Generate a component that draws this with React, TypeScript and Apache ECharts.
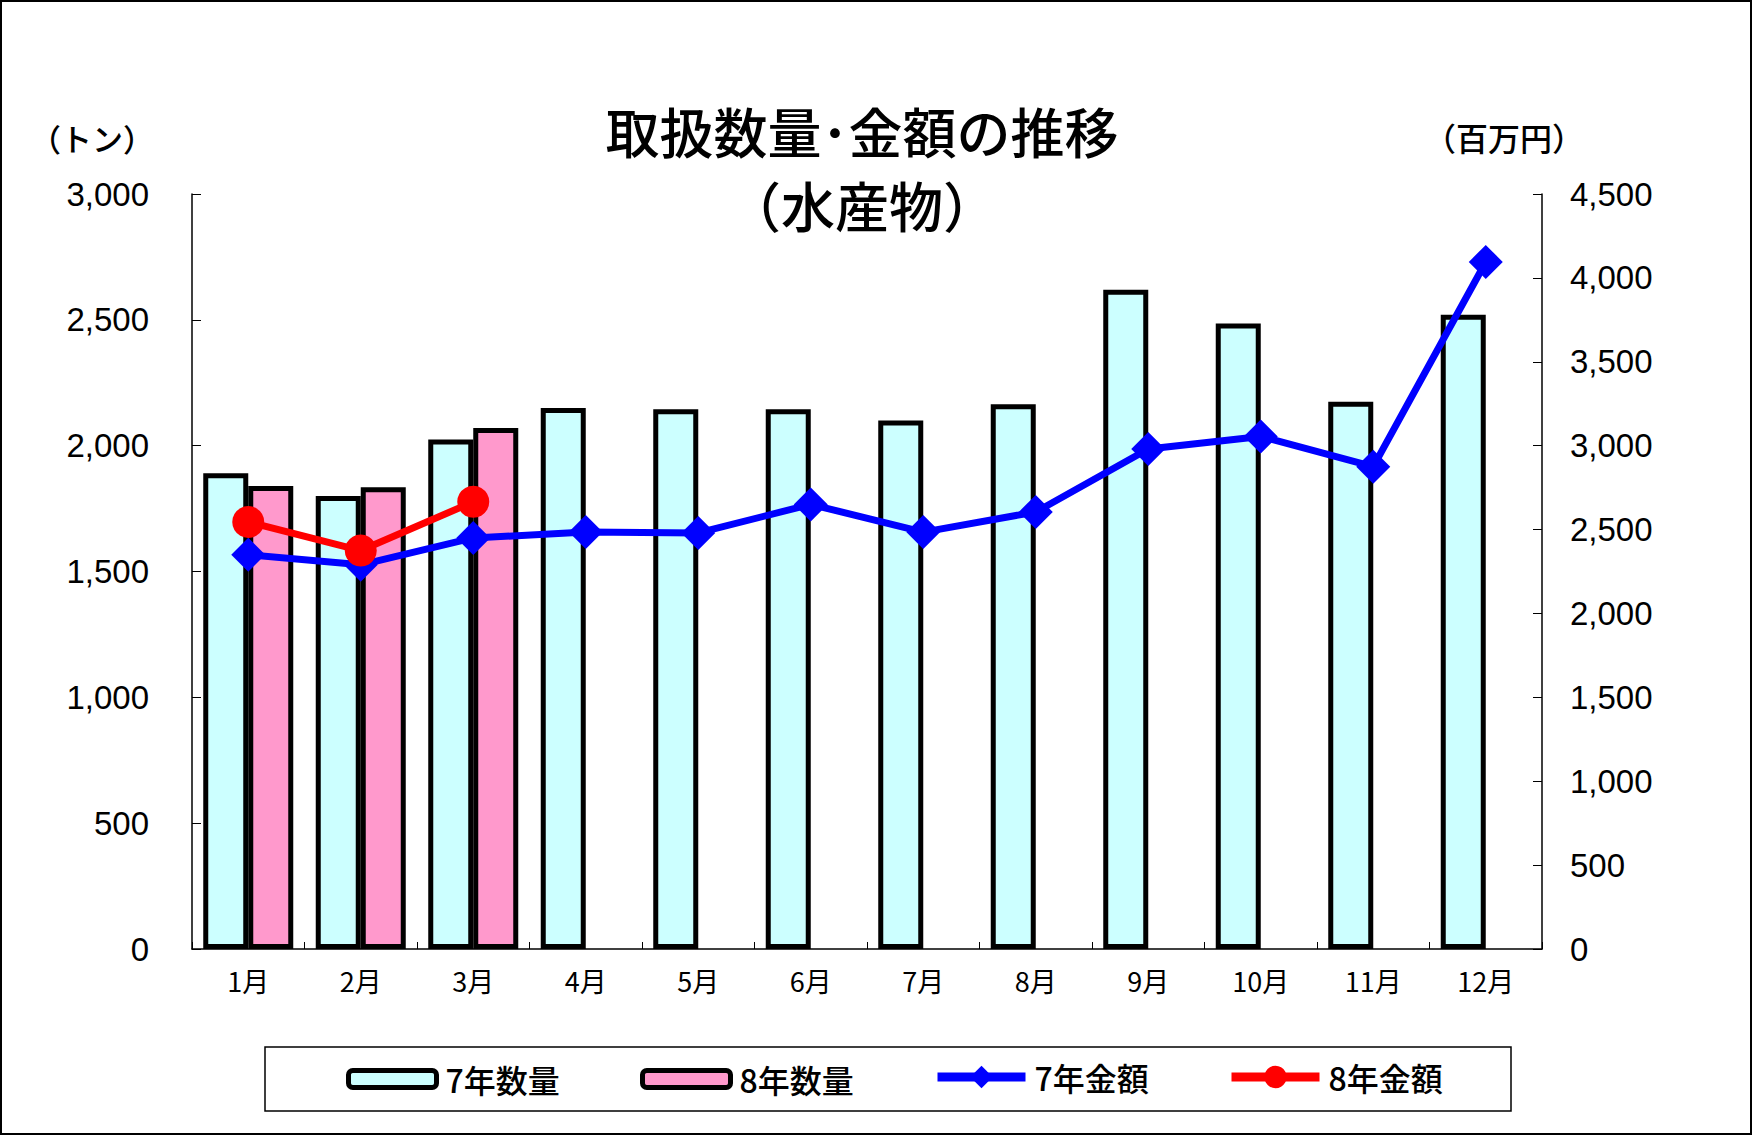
import React, { useEffect, useRef } from "react";
import * as echarts from "echarts";

const months = ["1月", "2月", "3月", "4月", "5月", "6月", "7月", "8月", "9月", "10月", "11月", "12月"];
const qty7 = [1890, 1800, 2025, 2150, 2145, 2145, 2100, 2165, 2620, 2485, 2175, 2520];
const qty8 = [1840, 1835, 2070, null, null, null, null, null, null, null, null, null];
const amt7 = [2350, 2290, 2450, 2485, 2480, 2650, 2485, 2605, 2980, 3055, 2875, 4095];
const amt8 = [2545, 2375, 2665, null, null, null, null, null, null, null, null, null];
const leftTicks = { min: 0, max: 3000, interval: 500 };
const rightTicks = { min: 0, max: 4500, interval: 500 };

const JP = "'Noto Sans CJK JP', 'Noto Sans', sans-serif";
const NUM = "'Liberation Sans', Arial, sans-serif";

export default function App() {
  const ref = useRef<HTMLDivElement>(null);
  useEffect(() => {
    if (!ref.current) return;
    const chart = echarts.init(ref.current, null, { renderer: "svg" });
    const fmt = (v: number) => v.toLocaleString("en-US");
    const barLegend = (name: string, left: number) => ({
      data: [name],
      left,
      top: 1063,
      itemWidth: 88,
      itemHeight: 17,
      itemGap: 0,
      padding: 0,
      itemStyle: { borderWidth: 5, borderColor: "#000" },
      textStyle: { fontFamily: JP, fontSize: 32, color: "#000", fontWeight: 500, padding: [0, 0, 0, 4] },
    });
    const lineLegend = (name: string, left: number) => ({
      data: [name],
      left,
      top: 1061,
      itemWidth: 88,
      itemHeight: 28,
      itemGap: 0,
      padding: 0,
      lineStyle: { width: 9 },
      textStyle: { fontFamily: JP, fontSize: 32, color: "#000", fontWeight: 500, padding: [0, 0, 0, 4] },
    });
    chart.setOption({
      animation: false,
      backgroundColor: "#fff",
      grid: { left: 192, right: 210, top: 194, bottom: 186, containLabel: false },
      legend: [
        barLegend("7年数量", 346),
        barLegend("8年数量", 640),
        lineLegend("7年金額", 933),
        lineLegend("8年金額", 1227),
      ],
      xAxis: {
        type: "category",
        data: months,
        axisLine: { lineStyle: { color: "#000", width: 1.5 } },
        axisTick: { show: true, inside: true, length: 7, lineStyle: { color: "#000" } },
        axisLabel: { fontFamily: JP, fontSize: 27, color: "#000", margin: 18 },
      },
      yAxis: [
        {
          type: "value",
          ...leftTicks,
          position: "left",
          splitLine: { show: false },
          axisLine: { show: true, lineStyle: { color: "#000", width: 1.5 } },
          axisTick: { show: true, inside: true, length: 9, lineStyle: { color: "#000" } },
          axisLabel: { fontFamily: NUM, fontSize: 33, color: "#000", margin: 43, formatter: fmt },
        },
        {
          type: "value",
          ...rightTicks,
          position: "right",
          splitLine: { show: false },
          axisLine: { show: true, lineStyle: { color: "#000", width: 1.5 } },
          axisTick: { show: true, inside: true, length: 9, lineStyle: { color: "#000" } },
          axisLabel: { fontFamily: NUM, fontSize: 33, color: "#000", margin: 28, formatter: fmt },
        },
      ],
      series: [
        {
          name: "7年数量",
          type: "bar",
          data: qty7,
          barWidth: 45,
          barGap: "0%",
          itemStyle: { color: "#CCFFFF", borderColor: "#000", borderWidth: 5 },
        },
        {
          name: "8年数量",
          type: "bar",
          data: qty8,
          barWidth: 45,
          barGap: "0%",
          itemStyle: { color: "#FF99CC", borderColor: "#000", borderWidth: 5 },
        },
        {
          name: "7年金額",
          type: "line",
          yAxisIndex: 1,
          data: amt7,
          symbol: "diamond",
          symbolSize: 34,
          lineStyle: { color: "#0000FF", width: 7 },
          itemStyle: { color: "#0000FF" },
          z: 5,
        },
        {
          name: "8年金額",
          type: "line",
          yAxisIndex: 1,
          data: amt8,
          symbol: "circle",
          symbolSize: 32,
          lineStyle: { color: "#FF0000", width: 7 },
          itemStyle: { color: "#FF0000" },
          z: 6,
        },
      ],
      graphic: [
        {
          type: "rect",
          shape: { x: 1, y: 1, width: 1750, height: 1133 },
          style: { fill: "none", stroke: "#000", lineWidth: 2 },
          silent: true,
        },
        {
          type: "rect",
          shape: { x: 265, y: 1047, width: 1246, height: 64 },
          style: { fill: "none", stroke: "#000", lineWidth: 1.5 },
          silent: true,
        },
        {
          type: "text",
          x: 862,
          y: 130,
          style: { text: "取扱数量･金額の推移", font: `500 54px ${JP}`, fill: "#000", align: "center", verticalAlign: "middle" },
        },
        {
          type: "text",
          x: 862,
          y: 204,
          style: { text: "（水産物）", font: `500 54px ${JP}`, fill: "#000", align: "center", verticalAlign: "middle" },
        },
        {
          type: "text",
          x: 30,
          y: 137,
          style: { text: "（トン）", font: `500 31px ${JP}`, fill: "#000", align: "left", verticalAlign: "middle" },
        },
        {
          type: "text",
          x: 1424,
          y: 137,
          style: { text: "（百万円）", font: `500 32px ${JP}`, fill: "#000", align: "left", verticalAlign: "middle" },
        },
      ],
    });
    return () => chart.dispose();
  }, []);
  return (
    <div
      ref={ref}
      style={{ position: "fixed", left: 0, top: 0, width: 1752, height: 1135 }}
    />
  );
}
